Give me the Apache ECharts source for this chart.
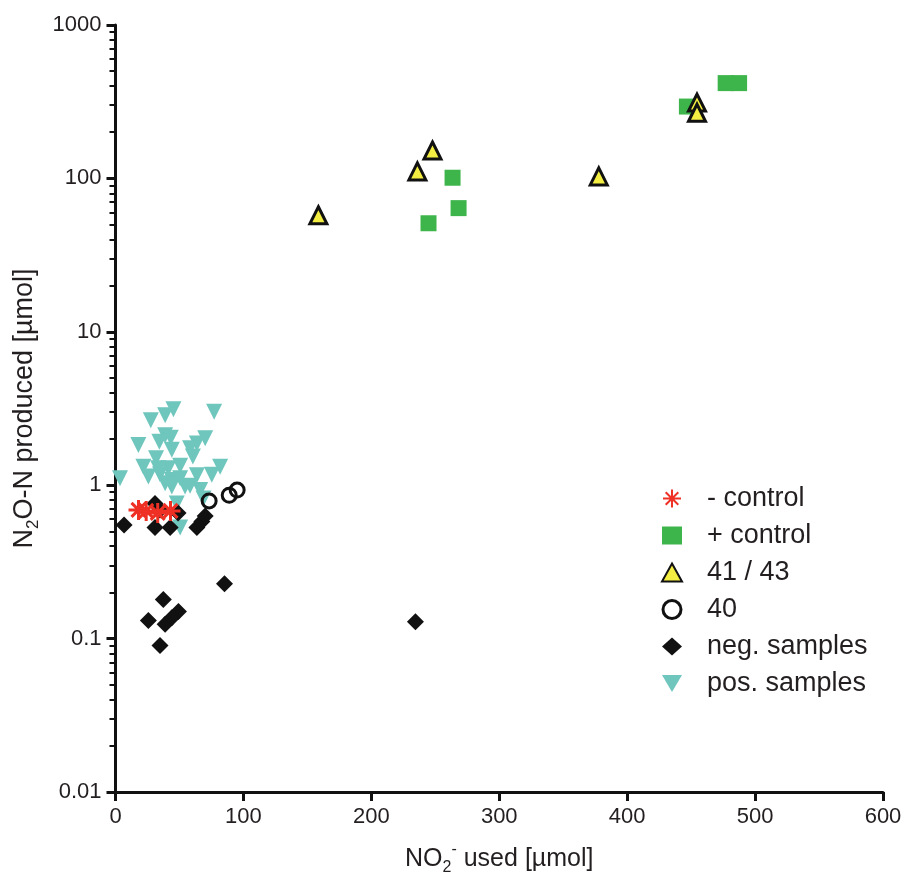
<!DOCTYPE html>
<html>
<head>
<meta charset="utf-8">
<script src="https://cdn.jsdelivr.net/npm/echarts@6/dist/echarts.min.js"></script>
<style>html,body{margin:0;padding:0;background:#fff}#c{width:908px;height:881px}</style>
</head>
<body>
<div id="c"></div>
<script>
// ---- data (x = NO2- used [µmol], y = N2O-N produced [µmol]) ----
const negControl = [[18,0.69],[24,0.68],[33,0.66],[43,0.68]];
const posControl = [[244.7,51],[263.5,101],[268.2,64],[446.7,294],[477,418],[487.5,418]];
const s4143 = [[158.6,57.5],[236,111],[247.8,152],[377.8,103],[454.6,312],[454.6,268]];
const s40 = [[73.2,0.79],[88.9,0.86],[95.1,0.93]];
const negSamples = [[6.7,0.55],[30.9,0.53],[42.7,0.53],[63.6,0.53],[67.5,0.58],[70.1,0.63],[30.9,0.76],[34.8,0.69],[48.9,0.66],[85.2,0.228],[37.4,0.18],[25.7,0.131],[49.2,0.15],[38.8,0.124],[44.0,0.137],[34.8,0.09],[234.5,0.129]];
const posSamples = [[45.3,3.13],[38.8,2.86],[77.1,3.01],[27.6,2.65],[38.8,2.12],[43.2,2.04],[17.9,1.83],[34.3,1.92],[63.6,1.87],[58.3,1.74],[44.0,1.70],[31.7,1.50],[60.5,1.54],[21.8,1.32],[41.3,1.29],[50.5,1.34],[81.8,1.32],[75.3,1.17],[63.6,1.16],[3.5,1.11],[25.7,1.14],[34.8,1.18],[44.0,1.08],[50.5,1.11],[44.0,0.98],[54.4,0.98],[66.2,0.93],[68.8,0.82],[47.9,0.76],[50.5,0.53],[70.1,2.02],[38.8,1.03],[58.3,0.99],[33.3,1.29]];

const seriesNames = ['- control','+ control','41 / 43','40','neg. samples','pos. samples'];
const yTickLabels = ['0.01','0.1','1','10','100','1000'];
const xTickLabels = ['0','100','200','300','400','500','600'];
const minorMultipliers = [2,3,4,5,6,7,8,9];
const decades = [0.01,0.1,1,10,100];
const minorTickValues = [];
decades.forEach(d => minorMultipliers.forEach(m => minorTickValues.push(+(d*m).toPrecision(3))));

const chart = echarts.init(document.getElementById('c'), null, {renderer:'canvas'});
const FONT = '"Liberation Sans", Arial, Helvetica, sans-serif';
const axisColor = '#111';
const textColor = '#231f20';

const option = {
  animation: false,
  backgroundColor: '#fff',
  grid: {left: 115.5, right: 25, top: 25, bottom: 86, containLabel: false},
  legend: {
    orient: 'vertical',
    left: 656, top: 480,
    itemWidth: 20, itemHeight: 18, itemGap: 10,
    data: [
      {name: seriesNames[0]},
      {name: seriesNames[1]},
      {name: seriesNames[2]},
      {name: seriesNames[3], itemStyle: {borderWidth: 3, borderColor: '#111', color: 'rgba(255,255,255,0)'}},
      {name: seriesNames[4]},
      {name: seriesNames[5], icon: 'path://M0,0 L20,0 L10,17 Z'}
    ],
    textStyle: {fontFamily: FONT, fontSize: 27, color: textColor, lineHeight: 26, padding: [0,0,0,20]}
  },
  xAxis: {
    type: 'value', min: 0, max: 600, interval: 100,
    name: '{a|NO}{sub|2}{sup|-}{a| used [µmol]}',
    nameLocation: 'middle', nameGap: 50,
    nameTextStyle: {
      fontFamily: FONT, color: textColor,
      rich: {
        a: {fontFamily: FONT, fontSize: 25, color: textColor, lineHeight: 34},
        sub: {fontFamily: FONT, fontSize: 16, color: textColor, lineHeight: 16, verticalAlign: 'bottom'},
        sup: {fontFamily: FONT, fontSize: 16, color: textColor, lineHeight: 16, verticalAlign: 'top'}
      }
    },
    splitLine: {show: false},
    axisLine: {onZero: false, lineStyle: {color: axisColor, width: 3}},
    axisTick: {length: 9, lineStyle: {color: axisColor, width: 3}},
    axisLabel: {fontFamily: FONT, fontSize: 22, color: textColor, margin: 14,
      formatter: v => xTickLabels[Math.round(v/100)]}
  },
  yAxis: [{
    type: 'log', logBase: 10, min: 0.01, max: 1000,
    name: '{a|N}{sub|2}{a|O-N produced [µmol]}',
    nameLocation: 'middle', nameGap: 73, nameRotate: 90,
    nameTextStyle: {
      fontFamily: FONT, color: textColor,
      rich: {
        a: {fontFamily: FONT, fontSize: 27, color: textColor, lineHeight: 34},
        sub: {fontFamily: FONT, fontSize: 17, color: textColor, lineHeight: 17, verticalAlign: 'bottom'}
      }
    },
    splitLine: {show: false},
    axisLine: {onZero: false, lineStyle: {color: axisColor, width: 3}},
    axisTick: {length: 9, lineStyle: {color: axisColor, width: 3}},
    axisLabel: {fontFamily: FONT, fontSize: 22, color: textColor, margin: 14,
      formatter: v => yTickLabels[Math.round(Math.log10(v)) + 2]}
  }, {
    type: 'log', logBase: 10, min: 0.01, max: 1000, position: 'left',
    splitLine: {show: false},
    axisLine: {show: false},
    axisLabel: {show: false},
    axisTick: {show: true, length: 6, customValues: minorTickValues, lineStyle: {color: axisColor, width: 2}}
  }],
  series: [
    {
      name: seriesNames[5], type: 'scatter', data: posSamples,
      symbol: 'triangle', symbolRotate: 180, symbolSize: 16,
      itemStyle: {color: '#6ec6bd', opacity: 1}, z: 2
    },
    {
      name: seriesNames[4], type: 'scatter', data: negSamples,
      symbol: 'diamond', symbolSize: 17,
      itemStyle: {color: '#111', opacity: 1}, z: 3
    },
    {
      name: seriesNames[3], type: 'scatter', data: s40,
      symbol: 'circle', symbolSize: 14,
      itemStyle: {color: 'rgba(255,255,255,0)', borderColor: '#111', borderWidth: 3, opacity: 1}, z: 4
    },
    {
      name: seriesNames[0], type: 'scatter', data: negControl,
      symbol: 'path://M10,0 L10,20 M0,10 L20,10 M3,3 L17,17 M3,17 L17,3',
      symbolSize: 20,
      itemStyle: {color: 'rgba(0,0,0,0)', borderColor: '#ee3124', borderWidth: 3, opacity: 1}, z: 5
    },
    {
      name: seriesNames[1], type: 'scatter', data: posControl,
      symbol: 'rect', symbolSize: 16,
      itemStyle: {color: '#3db54a', opacity: 1}, z: 6
    },
    {
      name: seriesNames[2], type: 'scatter', data: s4143,
      symbol: 'triangle', symbolSize: 17,
      itemStyle: {color: '#f4ee42', borderColor: '#111', borderWidth: 3, opacity: 1}, z: 7
    }
  ]
};
chart.setOption(option);
</script>
</body>
</html>
